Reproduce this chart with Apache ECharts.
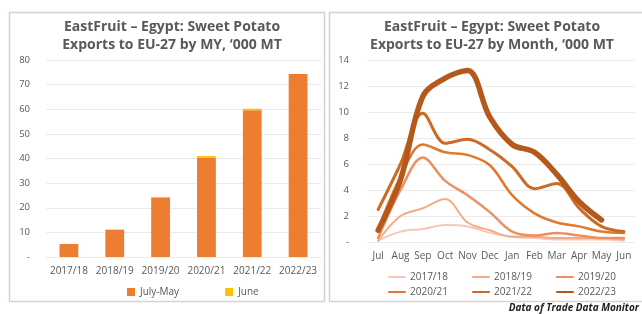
<!DOCTYPE html>
<html>
<head>
<meta charset="utf-8">
<script src="https://cdn.jsdelivr.net/npm/echarts@6/dist/echarts.min.js"></script>
<style>
    html, body { margin: 0; padding: 0; background: #fff; }
    #chart { width: 642px; height: 314px; }
</style>
</head>
<body>
<div id="chart"></div>
<script>
// 左图：按年度（MY）的出口量
const seasons = ['2017/18', '2018/19', '2019/20', '2020/21', '2021/22', '2022/23']
const julyMay = [5.3, 11.0, 24.2, 40.3, 59.6, 74.3]
const june = [0, 0.2, 0.2, 0.7, 0.6, 0]

// 右图：按月份的出口量
const months = ['Jul', 'Aug', 'Sep', 'Oct', 'Nov', 'Dec', 'Jan', 'Feb', 'Mar', 'Apr', 'May', 'Jun']
const y1718 = [0.1, 0.8, 1.0, 1.3, 1.2, 0.7, 0.4, 0.3, 0.2, 0.2, 0.2, 0.1]
const y1819 = [0.1, 2.0, 2.6, 3.3, 1.5, 0.9, 0.4, 0.4, 0.3, 0.3, 0.3, 0.2]
const y1920 = [0.3, 4.0, 6.5, 4.7, 3.6, 2.3, 0.8, 0.5, 0.7, 0.5, 0.3, 0.3]
const y2021 = [1.0, 5.0, 7.5, 6.9, 6.7, 5.9, 3.6, 2.2, 1.5, 1.2, 0.8, 0.7]
const y2122 = [2.5, 6.0, 9.9, 7.6, 7.9, 7.1, 5.8, 4.1, 4.5, 2.6, 1.2, 0.8]
const y2223 = [0.9, 4.8, 11.2, 12.6, 13.2, 9.6, 7.5, 6.9, 5.2, 3.1, 1.7, null]

const lineSeries = [
    { name: '2017/18', data: y1718, color: '#f5c9b3', width: 2 },
    { name: '2018/19', data: y1819, color: '#f2ac88', width: 2 },
    { name: '2019/20', data: y1920, color: '#ec9060', width: 2.5 },
    { name: '2020/21', data: y2021, color: '#e2782f', width: 2.5 },
    { name: '2021/22', data: y2122, color: '#cd6a24', width: 3 },
    { name: '2022/23', data: y2223, color: '#b5581b', width: 5.5 }
]

const txt = '#595959'
const font = 'Open Sans'

var chart = echarts.init(document.getElementById('chart'))
var option = {
    animation: false,
    textStyle: { fontFamily: font },
    // 两个面板的边框和数据来源
    graphic: [
        { type: 'rect', shape: { x: 9.5, y: 12.5, width: 315, height: 289 }, style: { fill: 'none', stroke: '#d8d2cb', lineWidth: 1.5 } },
        { type: 'rect', shape: { x: 329.5, y: 12.5, width: 320, height: 289 }, style: { fill: 'none', stroke: '#d8d2cb', lineWidth: 1.5 } },
        { type: 'text', right: 3, top: 303, style: { text: 'Data of Trade Data Monitor', font: 'italic bold 10px ' + font, fill: '#222' } }
    ],
    title: [
        { text: 'EastFruit – Egypt: Sweet Potato\nExports to EU-27 by MY, ‘000 MT', left: 167, top: 13, textAlign: 'center',
          textStyle: { fontSize: 14, fontWeight: 'bold', color: txt, lineHeight: 18, fontFamily: font } },
        { text: 'EastFruit – Egypt: Sweet Potato\nExports to EU-27 by Month, ‘000 MT', left: 487, top: 13, textAlign: 'center',
          textStyle: { fontSize: 14, fontWeight: 'bold', color: txt, lineHeight: 18, fontFamily: font } }
    ],
    legend: [
        { data: ['July-May', 'June'], left: 122, top: 282, itemWidth: 8, itemHeight: 8, itemGap: 46, icon: 'rect',
          textStyle: { color: txt, fontSize: 10 } },
        { data: ['2017/18', '2018/19', '2019/20'], left: 383, top: 267, itemWidth: 16, itemHeight: 3, itemGap: 24,
          textStyle: { color: txt, fontSize: 10 } },
        { data: ['2020/21', '2021/22', '2022/23'], left: 383, top: 282, itemWidth: 16, itemHeight: 3, itemGap: 24,
          textStyle: { color: txt, fontSize: 10 } }
    ],
    grid: [
        { left: 46, right: 321, top: 60, bottom: 57 },
        { left: 367, right: 7, top: 60, bottom: 72 }
    ],
    xAxis: [
        { type: 'category', gridIndex: 0, data: seasons, axisLine: { show: false }, axisTick: { show: false },
          axisLabel: { color: txt, fontSize: 10, margin: 9, interval: 0 } },
        { type: 'category', gridIndex: 1, data: months, axisLine: { show: false }, axisTick: { show: false },
          axisLabel: { color: txt, fontSize: 10, margin: 9, interval: 0 } }
    ],
    yAxis: [
        { type: 'value', gridIndex: 0, min: 0, max: 80, interval: 10,
          axisLabel: { color: txt, fontSize: 9.5, margin: 16, formatter: v => v === 0 ? '-' : v },
          splitLine: { lineStyle: { color: '#ebebeb' } } },
        { type: 'value', gridIndex: 1, min: 0, max: 14, interval: 2,
          axisLabel: { color: txt, fontSize: 9.5, margin: 18, formatter: v => v === 0 ? '-' : v },
          splitLine: { lineStyle: { color: '#ebebeb' } } }
    ],
    series: [
        { name: 'July-May', type: 'bar', stack: 'my', xAxisIndex: 0, yAxisIndex: 0, data: julyMay, barWidth: '41%',
          itemStyle: { color: '#ed7d31' } },
        { name: 'June', type: 'bar', stack: 'my', xAxisIndex: 0, yAxisIndex: 0, data: june, barWidth: '41%',
          itemStyle: { color: '#ffc000' } }
    ].concat(lineSeries.map(s => ({
        name: s.name, type: 'line', xAxisIndex: 1, yAxisIndex: 1, data: s.data,
        smooth: 0.35, symbol: 'none', color: s.color,
        lineStyle: { width: s.width, color: s.color, cap: 'round', join: 'round' }
    })))
}
chart.setOption(option)
</script>
</body>
</html>
